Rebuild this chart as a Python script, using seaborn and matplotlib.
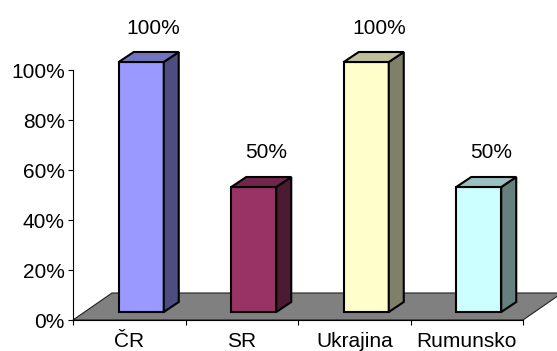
import numpy as np
import pandas as pd
import matplotlib
matplotlib.use("Agg")
import matplotlib.pyplot as plt
import matplotlib.transforms as mtransforms
from matplotlib.patches import Polygon
import seaborn as sns

categories = ["ČR", "SR", "Ukrajina", "Rumunsko"]
values = [100, 50, 100, 50]
value_labels = ["100%", "50%", "100%", "50%"]
y_ticks = [0, 20, 40, 60, 80, 100]
y_tick_labels = ["0%", "20%", "40%", "60%", "80%", "100%"]

front_colors = ["#9999FF", "#993366", "#FFFFCC", "#CCFFFF"]
side_colors = ["#4D4D80", "#4D1A33", "#80806A", "#668080"]
top_colors = ["#7373BF", "#73264D", "#BFBF99", "#99BFBF"]

sns.set_style("white")
plt.rcParams["font.family"] = ["Liberation Sans", "DejaVu Sans"]
plt.rcParams["text.color"] = "black"
plt.rcParams["xtick.color"] = "black"
plt.rcParams["ytick.color"] = "black"
plt.rcParams["axes.edgecolor"] = "black"

W, H, DPI = 557, 351, 100
FS = 15
fig = plt.figure(figsize=(W / DPI, H / DPI), dpi=DPI)
ax = fig.add_axes([73 / W, 31 / H, 450 / W, 250 / H])

df = pd.DataFrame({"country": categories, "share": values})
sns.barplot(data=df, x="country", y="share", hue="country",
            palette=front_colors, legend=False, width=0.4, saturation=1,
            edgecolor="black", linewidth=1.5, ax=ax, zorder=3)
bars = list(ax.patches)

ax.set_xlim(-0.5, len(categories) - 0.5)
ax.set_ylim(0, 100)

# pixel -> data scale factors for the fixed axes box
px_x = (len(categories)) / 450.0
px_y = 100.0 / 250.0

# bars stand in the middle of the floor depth
bar_trans = ax.transData + mtransforms.ScaledTranslation(12 / DPI, 8 / DPI, fig.dpi_scale_trans)
ddx, ddy = 15 * px_x, 10 * px_y

# floor of the 3-D box
fdx, fdy = 39 * px_x, 27 * px_y
x0, x1 = ax.get_xlim()
floor = Polygon([(x0, 0), (x1, 0), (x1 + fdx, fdy), (x0 + fdx, fdy)],
                closed=True, facecolor="#808080", edgecolor="#202020",
                linewidth=0.8, zorder=1, clip_on=False, transform=ax.transData)
ax.add_patch(floor)

for p, side_c, top_c, lbl in zip(bars, side_colors, top_colors, value_labels):
    p.set_transform(bar_trans)
    p.set_clip_on(False)
    p.set_joinstyle("miter")
    bx, bw, bh = p.get_x(), p.get_width(), p.get_height()
    side = Polygon([(bx + bw, 0), (bx + bw + ddx, ddy), (bx + bw + ddx, bh + ddy), (bx + bw, bh)],
                   closed=True, facecolor=side_c, edgecolor="black", linewidth=1.5,
                   joinstyle="miter", zorder=3, clip_on=False, transform=bar_trans)
    top = Polygon([(bx, bh), (bx + bw, bh), (bx + bw + ddx, bh + ddy), (bx + ddx, bh + ddy)],
                  closed=True, facecolor=top_c, edgecolor="black", linewidth=1.5,
                  joinstyle="miter", zorder=3, clip_on=False, transform=bar_trans)
    ax.add_patch(side)
    ax.add_patch(top)
    ax.annotate(lbl, xy=(bx + bw / 2, bh), xycoords=bar_trans,
                xytext=(12.5, 34), textcoords="offset pixels",
                ha="center", va="center", fontsize=FS, annotation_clip=False)

ax.set_yticks(y_ticks, y_tick_labels)
ax.set_xticks(range(len(categories)), categories)
ax.set_xticks(np.arange(-0.5, len(categories), 1), minor=True)
ax.tick_params(axis="x", which="major", length=0, pad=8.5, labelsize=FS)
ax.tick_params(axis="x", which="minor", bottom=True, length=3.6, width=0.8, direction="out")
ax.tick_params(axis="y", left=True, length=3.6, width=0.8, pad=2.2, direction="out", labelsize=FS)
ax.set_xlabel("")
ax.set_ylabel("")
for s in ("top", "right"):
    ax.spines[s].set_visible(False)
for s in ("left", "bottom"):
    ax.spines[s].set_linewidth(0.8)
    ax.spines[s].set_zorder(2)
ax.patch.set_alpha(0)

fig.savefig("out.png", dpi=DPI)
